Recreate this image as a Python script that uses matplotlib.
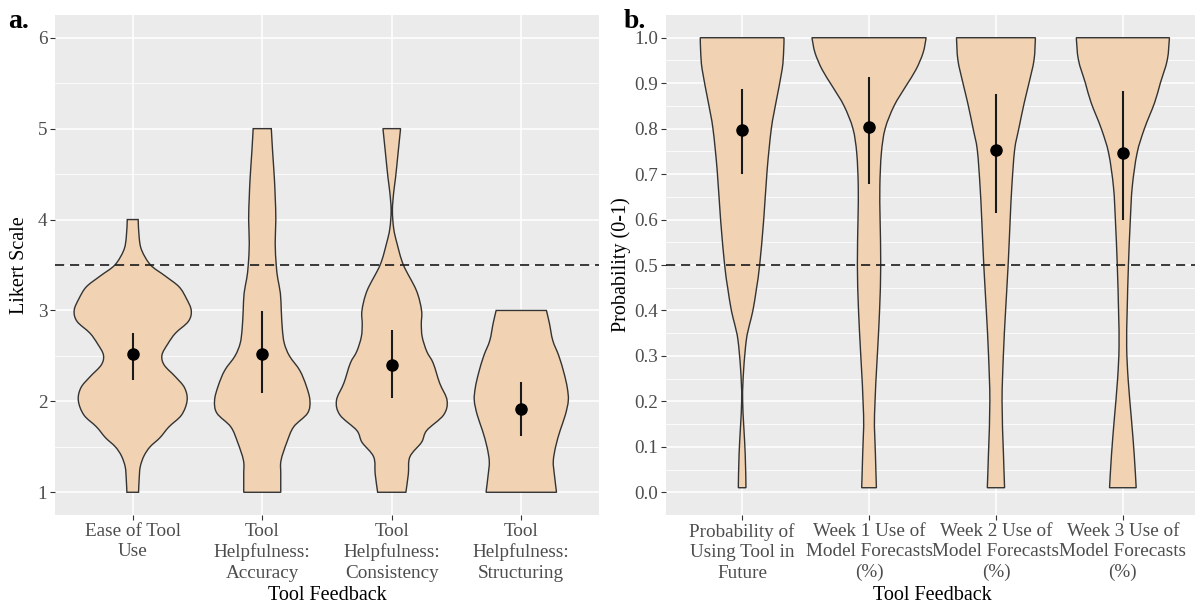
import numpy as np
import matplotlib.pyplot as plt
from matplotlib.path import Path
from matplotlib.patches import PathPatch

plt.rcParams['font.family'] = ['Liberation Serif', 'DejaVu Serif']

# ---- panel a: Likert items ----
likert_labels = ['Ease of Tool\nUse', 'Tool\nHelpfulness:\nAccuracy',
                 'Tool\nHelpfulness:\nConsistency', 'Tool\nHelpfulness:\nStructuring']
likert_mean = [2.52, 2.52, 2.40, 1.92]
likert_lo = [2.24, 2.09, 2.04, 1.62]
likert_hi = [2.75, 2.99, 2.79, 2.21]

# violin outlines: y level and half width (category units)
ease_y = [1.0, 1.15, 1.28, 1.4, 1.5, 1.6, 1.72, 1.85, 2.01, 2.15, 2.27, 2.4, 2.51,
          2.63, 2.75, 2.88, 3.0, 3.13, 3.26, 3.38, 3.5, 3.66, 3.8, 4.0]
ease_w = [0.045, 0.05, 0.058, 0.087, 0.134, 0.21, 0.28, 0.377, 0.42, 0.40, 0.33, 0.243, 0.226,
          0.27, 0.33, 0.43, 0.452, 0.415, 0.358, 0.25, 0.138, 0.07, 0.05, 0.042]

acc_y = [1.0, 1.2, 1.35, 1.55, 1.72, 1.87, 2.01, 2.17, 2.34, 2.5, 2.64, 2.8, 3.0,
         3.19, 3.35, 3.5, 3.74, 4.0, 4.25, 4.47, 4.75, 5.0]
acc_w = [0.143, 0.143, 0.145, 0.19, 0.243, 0.35, 0.368, 0.34, 0.29, 0.21, 0.17, 0.155, 0.147,
         0.14, 0.12, 0.108, 0.1, 0.105, 0.10, 0.093, 0.08, 0.07]

cons_y = [1.0, 1.2, 1.39, 1.55, 1.68, 1.85, 2.01, 2.2, 2.42, 2.55, 2.71, 2.85, 3.0,
          3.22, 3.5, 3.74, 3.9, 4.1, 4.3, 4.47, 4.75, 5.0]
cons_w = [0.109, 0.128, 0.14, 0.23, 0.27, 0.40, 0.427, 0.37, 0.32, 0.27, 0.235, 0.228, 0.23,
          0.19, 0.09, 0.04, 0.015, 0.005, 0.015, 0.03, 0.05, 0.068]

struct_y = [1.0, 1.2, 1.34, 1.5, 1.68, 1.85, 2.01, 2.15, 2.31, 2.5, 2.67, 2.86, 3.0]
struct_w = [0.272, 0.255, 0.247, 0.265, 0.30, 0.34, 0.363, 0.355, 0.33, 0.29, 0.243, 0.217, 0.194]

# ---- panel b: probabilities ----
prob_labels = ['Probability of\nUsing Tool in\nFuture', 'Week 1 Use of\nModel Forecasts\n(%)',
               'Week 2 Use of\nModel Forecasts\n(%)', 'Week 3 Use of\nModel Forecasts\n(%)']
prob_mean = [0.797, 0.803, 0.753, 0.746]
prob_lo = [0.700, 0.678, 0.615, 0.600]
prob_hi = [0.887, 0.913, 0.877, 0.882]

fut_y = [0.01, 0.085, 0.2, 0.27, 0.335, 0.37, 0.4, 0.45, 0.5, 0.6, 0.709, 0.8, 0.857, 0.93, 0.97, 1.0]
fut_w = [0.03, 0.024, 0.004, 0.012, 0.033, 0.059, 0.085, 0.114, 0.138, 0.17, 0.197, 0.23, 0.266,
         0.315, 0.327, 0.33]

wk1_y = [0.01, 0.085, 0.17, 0.305, 0.4, 0.5, 0.6, 0.672, 0.746, 0.8, 0.85, 0.893, 0.93, 0.967, 1.0]
wk1_w = [0.058, 0.05, 0.043, 0.066, 0.083, 0.092, 0.087, 0.085, 0.097, 0.127, 0.197, 0.289, 0.37,
         0.426, 0.45]

wk2_y = [0.01, 0.085, 0.2, 0.305, 0.4, 0.5, 0.6, 0.672, 0.753, 0.8, 0.857, 0.9, 0.951, 1.0]
wk2_w = [0.068, 0.059, 0.048, 0.059, 0.076, 0.096, 0.112, 0.125, 0.147, 0.18, 0.223, 0.26, 0.30, 0.311]

wk3_y = [0.01, 0.085, 0.159, 0.247, 0.32, 0.4, 0.5, 0.6, 0.672, 0.746, 0.8, 0.857, 0.9, 0.951, 1.0]
wk3_w = [0.105, 0.089, 0.068, 0.042, 0.03, 0.034, 0.044, 0.059, 0.074, 0.112, 0.17, 0.25, 0.295,
         0.35, 0.367]

FILL = '#F1D3B3'
EDGE = '#333333'
BG = '#EBEBEB'


def smooth_side(pts):
    """Catmull-Rom through the read points, returned as cubic bezier path pieces."""
    verts, codes = [], []
    n = len(pts)
    for i in range(n - 1):
        p0 = pts[max(i - 1, 0)]
        p1 = pts[i]
        p2 = pts[i + 1]
        p3 = pts[min(i + 2, n - 1)]
        c1 = p1 + (p2 - p0) / 6.0
        c2 = p2 - (p3 - p1) / 6.0
        verts += [c1, c2, p2]
        codes += [Path.CURVE4] * 3
    return verts, codes


def violin_patch(xc, ys, ws):
    ys = np.asarray(ys, float)
    ws = np.asarray(ws, float)
    right = np.column_stack([xc + ws, ys])
    left = np.column_stack([xc - ws, ys])[::-1]
    verts = [right[0]]
    codes = [Path.MOVETO]
    v, c = smooth_side(right)
    verts += v
    codes += c
    verts.append(left[0])
    codes.append(Path.LINETO)
    v, c = smooth_side(left)
    verts += v
    codes += c
    verts.append(right[0])
    codes.append(Path.CLOSEPOLY)
    return PathPatch(Path(np.array(verts), codes), facecolor=FILL, edgecolor=EDGE,
                     linewidth=1.0, zorder=2)


def draw_panel(ax, shapes, mean, lo, hi, labels, ylim, yticks, yminor, ytickfmt, hline):
    ax.set_facecolor(BG)
    for s in ax.spines.values():
        s.set_visible(False)
    for yy in yticks:
        ax.axhline(yy, color='white', lw=1.1, zorder=0)
    for yy in yminor:
        ax.axhline(yy, color='white', lw=0.55, zorder=0)
    for i in range(len(labels)):
        ax.axvline(i + 1, color='white', lw=1.1, zorder=0)

    for i, (ys, ws) in enumerate(shapes):
        ax.add_patch(violin_patch(i + 1, ys, ws))

    ax.axhline(hline, color='#1a1a1a', lw=1.2, ls=(0, (5.5, 3.5)), zorder=3)

    xs = np.arange(1, len(labels) + 1)
    ax.vlines(xs, lo, hi, color='#1a1a1a', lw=1.5, zorder=4)
    ax.plot(xs, mean, 'o', color='black', ms=8, zorder=5)

    ax.set_xlim(0.4, 4.6)
    ax.set_ylim(*ylim)
    ax.set_xticks(xs)
    ax.set_xticklabels(labels, fontsize=13.8, color='#4D4D4D', linespacing=1.27)
    ax.set_yticks(yticks)
    ax.set_yticklabels([ytickfmt.format(v) for v in yticks], fontsize=13.8, color='#4D4D4D')
    ax.tick_params(axis='both', length=3.5, width=0.8, color='#333333', pad=2)
    ax.set_xlabel('Tool Feedback', fontsize=14.5, color='black')
    ax.xaxis.set_label_coords(0.5, -0.142)
    ax.xaxis.label.set_va('top')


fig = plt.figure(figsize=(11.95, 6.07), dpi=100)

ax_a = fig.add_axes([55 / 1195, 92 / 607, 544 / 1195, 500 / 607])
draw_panel(ax_a,
           [(ease_y, ease_w), (acc_y, acc_w), (cons_y, cons_w), (struct_y, struct_w)],
           likert_mean, likert_lo, likert_hi, likert_labels,
           (0.75, 6.25), [1, 2, 3, 4, 5, 6], [1.5, 2.5, 3.5, 4.5, 5.5], '{:d}', 3.5)

ax_b = fig.add_axes([666 / 1195, 92 / 607, 533 / 1195, 500 / 607])
draw_panel(ax_b,
           [(fut_y, fut_w), (wk1_y, wk1_w), (wk2_y, wk2_w), (wk3_y, wk3_w)],
           prob_mean, prob_lo, prob_hi, prob_labels,
           (-0.05, 1.05), [round(0.1 * k, 1) for k in range(11)],
           [round(0.05 + 0.1 * k, 2) for k in range(10)], '{:.1f}', 0.5)

fig.text(20 / 1195, (92 + 250) / 607, 'Likert Scale', rotation=90, fontsize=14.5,
         ha='center', va='center')
fig.text(621 / 1195, (92 + 250) / 607, 'Probability (0-1)', rotation=90, fontsize=14.5,
         ha='center', va='center')

fig.text(8 / 1195, 1 - 28 / 607, 'a.', fontsize=20, fontweight='bold', va='baseline')
fig.text(624 / 1195, 1 - 28 / 607, 'b.', fontsize=20, fontweight='bold', va='baseline')

fig.savefig('out.png', dpi=100, facecolor='white')
